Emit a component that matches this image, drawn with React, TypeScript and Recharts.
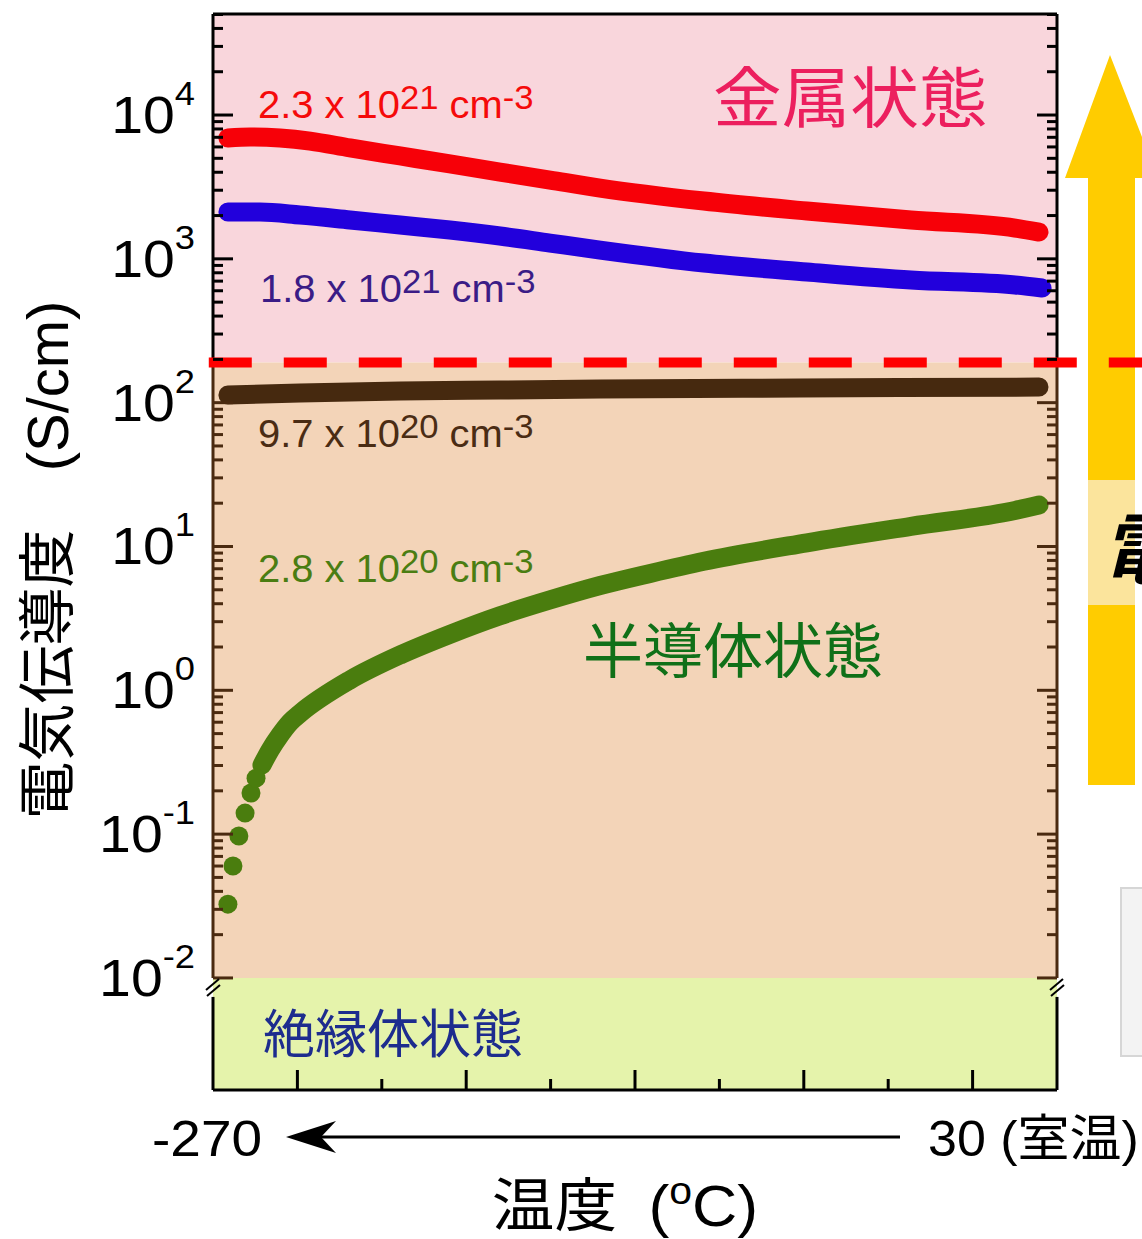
import React from "react";
import { ComposedChart, Line, XAxis, YAxis, ReferenceArea, ReferenceLine } from "recharts";

// temperature in °C, conductivity in S/cm
const redT = [-264.7, -256.8, -246.2, -235.5, -221.3, -203.5, -185.8, -168.0, -150.2, -132.4, -95.5, -58.9, -21.9, 15.1, 23.6];
const redS = [6920, 7040, 6920, 6590, 5900, 5190, 4570, 4015, 3530, 3105, 2523, 2149, 1862, 1638, 1535];

const blueT = [-264.7, -253.3, -239.1, -221.3, -203.5, -185.8, -168.0, -150.2, -132.4, -95.5, -58.9, -21.9, 15.1, 24.7];
const blueS = [2115, 2115, 2017, 1864, 1718, 1586, 1442, 1288, 1151, 935, 810, 712, 658, 627];

const brownT = [-264.7, -239.1, -203.5, -168.0, -132.4, -61.4, 23.6];
const brownS = [113, 116.7, 120.5, 122.5, 124.5, 126.5, 128.4];

// low temperature points of the 2.8e20 sample are separate dots
const greenDotT = [-264.7, -262.9, -260.8, -258.6, -256.5, -254.7];
const greenDotS = [0.0326, 0.06, 0.097, 0.14, 0.193, 0.245];
const greenT = [-252.6, -249.7, -246.2, -242.6, -239.1, -221.3, -203.5, -185.8, -168.0, -150.2, -132.4, -114.6, -95.5, -58.9, -21.9, 15.1, 23.6];
const greenS = [0.302, 0.384, 0.488, 0.6, 0.69, 1.18, 1.76, 2.45, 3.3, 4.25, 5.35, 6.5, 7.9, 10.6, 13.8, 17.8, 19.4];

const xTicks = [-240, -210, -180, -150, -120, -90, -60, -30, 0];
const decades = [0.01, 0.1, 1, 10, 100, 1000, 10000];
const minorMult = [2, 3, 4, 5, 6, 7, 8, 9];

const Y_MIN = 0.001663;
const Y_MAX = 50400;
const METAL_LINE = 190; // metal / semiconductor border
const BREAK_END = 0.00738;

const yTicks = decades.flatMap((d) => [d, ...minorMult.map((m) => m * d)]).filter((v) => v <= 50000);

const toRows = (t: number[], s: number[]) => t.map((v, i) => ({ t: v, s: s[i] }));

const BROWN = "#4a2a10";
const FONT = "'Liberation Sans', Arial, 'Noto Sans CJK JP', sans-serif";
const JP = "'Noto Sans CJK JP', 'Liberation Sans', sans-serif";

const isMajor = (v: number) => {
  const l = Math.log10(v);
  return Math.abs(l - Math.round(l)) < 1e-9;
};
const tickColor = (v: number) => (v > METAL_LINE ? "#000" : BROWN);

function LeftTick(props: any) {
  const { x, y, payload } = props;
  const v = payload.value;
  const major = isMajor(v);
  const e = Math.round(Math.log10(v));
  return (
    <g>
      <line x1={x} x2={x + (major ? 20 : 10)} y1={y} y2={y} stroke={tickColor(v)} strokeWidth={3} />
      {major && (
        <text transform={`translate(${x - 18},${y + 18}) scale(1.1,1)`} textAnchor="end" fontSize={52} fontFamily={FONT} fill="#000">
          10
          <tspan fontSize={33} dy={-28}>
            {e}
          </tspan>
        </text>
      )}
    </g>
  );
}

function RightTick(props: any) {
  const { x, y, payload } = props;
  const v = payload.value;
  const major = isMajor(v);
  return <line x1={x} x2={x - (major ? 20 : 10)} y1={y} y2={y} stroke={tickColor(v)} strokeWidth={3} />;
}

function BottomTick(props: any) {
  const { x, y, payload } = props;
  const major = payload.value % 60 === 0;
  return <line x1={x} x2={x} y1={y} y2={y - (major ? 20 : 11)} stroke="#000" strokeWidth={3} />;
}

function TopTick(props: any) {
  const { x, y, payload } = props;
  const major = payload.value % 60 === 0;
  return <line x1={x} x2={x} y1={y} y2={y + (major ? 20 : 11)} stroke="#000" strokeWidth={3} />;
}

function Conc(props: { x: number; y: number; mant: string; exp: string; color: string }) {
  const { x, y, mant, exp, color } = props;
  return (
    <text transform={`translate(${x},${y}) scale(1.05,1)`} fontSize={38} fontFamily={FONT} fill={color}>
      {mant} x 10
      <tspan fontSize={33} dy={-9}>
        {exp}
      </tspan>
      <tspan dy={9}> cm</tspan>
      <tspan fontSize={33} dy={-9}>
        -3
      </tspan>
    </text>
  );
}

export default function App() {
  const frame = (x1: number, y1: number, x2: number, y2: number, color: string, key: string) => (
    <ReferenceLine
      key={key}
      xAxisId="b"
      yAxisId="l"
      segment={[
        { x: x1, y: y1 },
        { x: x2, y: y2 },
      ]}
      stroke={color}
      strokeWidth={3}
      ifOverflow="visible"
    />
  );

  return (
    <div style={{ position: "absolute", left: 0, top: 0, width: 1142, height: 1239, overflow: "hidden" }}>
      <svg style={{ position: "absolute", left: 0, top: 0 }} width={1142} height={1239}>
        <path d="M1110,55 L1158,178 L1135,178 L1135,785 L1088,785 L1088,178 L1065,178 Z" fill="#ffcc00" />
        <rect x={1088} y={480} width={47} height={125} fill="#fbe49c" />
        <text x={1101} y={578} fontSize={78} fontWeight="bold" fontStyle="italic" fontFamily={JP} fill="#000">
          電
        </text>
        <rect x={1121} y={888} width={40} height={168} fill="#f3f3f3" stroke="#d6d6d6" strokeWidth={2} />
      </svg>

      <div style={{ position: "absolute", left: 0, top: 0 }}>
        <ComposedChart width={1142} height={1239} margin={{ top: 0, right: 45, bottom: 119, left: 153 }}>
          <XAxis
            xAxisId="b"
            dataKey="t"
            type="number"
            domain={[-270, 30]}
            allowDataOverflow
            ticks={xTicks}
            interval={0}
            height={30}
            axisLine={false}
            tickLine={false}
            tickSize={0}
            tickMargin={0}
            tick={<BottomTick />}
          />
          <XAxis
            xAxisId="t"
            orientation="top"
            type="number"
            domain={[-270, 30]}
            allowDataOverflow
            ticks={xTicks}
            interval={0}
            height={14}
            axisLine={false}
            tickLine={false}
            tickSize={0}
            tickMargin={0}
            tick={<TopTick />}
          />
          <YAxis
            yAxisId="l"
            dataKey="s"
            type="number"
            scale="log"
            domain={[Y_MIN, Y_MAX]}
            allowDataOverflow
            ticks={yTicks}
            interval={0}
            width={60}
            axisLine={false}
            tickLine={false}
            tickSize={0}
            tickMargin={0}
            tick={<LeftTick />}
          />
          <YAxis
            yAxisId="r"
            orientation="right"
            type="number"
            scale="log"
            domain={[Y_MIN, Y_MAX]}
            allowDataOverflow
            ticks={yTicks}
            interval={0}
            width={40}
            axisLine={false}
            tickLine={false}
            tickSize={0}
            tickMargin={0}
            tick={<RightTick />}
          />

          <ReferenceArea xAxisId="b" yAxisId="l" x1={-270} x2={30} y1={METAL_LINE} y2={Y_MAX} fill="#f9d6dc" fillOpacity={1} stroke="none" />
          <ReferenceArea xAxisId="b" yAxisId="l" x1={-270} x2={30} y1={0.01} y2={METAL_LINE} fill="#f3d4b8" fillOpacity={1} stroke="none" />
          <ReferenceArea xAxisId="b" yAxisId="l" x1={-270} x2={30} y1={Y_MIN} y2={0.01} fill="#e5f3ab" fillOpacity={1} stroke="none" />

          {frame(-270, Y_MAX, 30, Y_MAX, "#000", "top")}
          {frame(-270, Y_MIN, 30, Y_MIN, "#000", "bottom")}
          {frame(-270, Y_MAX, -270, METAL_LINE, "#000", "l1")}
          {frame(-270, METAL_LINE, -270, 0.01, BROWN, "l2")}
          {frame(-270, BREAK_END, -270, Y_MIN, "#000", "l3")}
          {frame(30, Y_MAX, 30, METAL_LINE, "#000", "r1")}
          {frame(30, METAL_LINE, 30, 0.01, BROWN, "r2")}
          {frame(30, BREAK_END, 30, Y_MIN, "#000", "r3")}

          <Line xAxisId="b" yAxisId="l" data={toRows(redT, redS)} dataKey="s" type="monotone" stroke="#f70008" strokeWidth={19} strokeLinecap="round" strokeLinejoin="round" dot={false} isAnimationActive={false} />
          <Line xAxisId="b" yAxisId="l" data={toRows(blueT, blueS)} dataKey="s" type="monotone" stroke="#2200dc" strokeWidth={19} strokeLinecap="round" strokeLinejoin="round" dot={false} isAnimationActive={false} />
          <Line xAxisId="b" yAxisId="l" data={toRows(brownT, brownS)} dataKey="s" type="monotone" stroke="#46290f" strokeWidth={19} strokeLinecap="round" strokeLinejoin="round" dot={false} isAnimationActive={false} />
          <Line xAxisId="b" yAxisId="l" data={toRows(greenT, greenS)} dataKey="s" type="monotone" stroke="#4a7d0e" strokeWidth={19} strokeLinecap="round" strokeLinejoin="round" dot={false} isAnimationActive={false} />
          <Line xAxisId="b" yAxisId="l" data={toRows(greenDotT, greenDotS)} dataKey="s" stroke="none" dot={{ r: 9.5, fill: "#4a7d0e", stroke: "none" }} isAnimationActive={false} />

          <ReferenceLine
            xAxisId="b"
            yAxisId="l"
            segment={[
              { x: -271.5, y: METAL_LINE },
              { x: 62, y: METAL_LINE },
            ]}
            stroke="#ff0000"
            strokeWidth={10}
            strokeDasharray="43 32"
            ifOverflow="visible"
          />
        </ComposedChart>
      </div>

      <svg style={{ position: "absolute", left: 0, top: 0, pointerEvents: "none" }} width={1142} height={1239}>
        <Conc x={258} y={118} mant="2.3" exp="21" color="#f50a0a" />
        <Conc x={260} y={302} mant="1.8" exp="21" color="#3b1c86" />
        <Conc x={258} y={447} mant="9.7" exp="20" color="#4a2c14" />
        <Conc x={258} y={582} mant="2.8" exp="20" color="#4a7d12" />

        <text transform="translate(713,122) scale(1.04,1)" fontSize={66} fontFamily={JP} fill="#ec1f5e">
          金属状態
        </text>
        <text x={583} y={673} fontSize={60} fontFamily={JP} fill="#107018">
          半導体状態
        </text>
        <text x={263} y={1053} fontSize={52} fontFamily={JP} fill="#1d2c8e">
          絶縁体状態
        </text>

        <text transform="translate(68,560) rotate(-90)" textAnchor="middle" fontSize={58} fontFamily={FONT} fill="#000">
          電気伝導度{"\u3000"}(S/cm)
        </text>

        <g stroke="#000" strokeWidth={2}>
          <line x1={206} y1={990} x2={219} y2={979} />
          <line x1={207} y1={996} x2={220} y2={985} />
          <line x1={1050} y1={990} x2={1063} y2={979} />
          <line x1={1051} y1={996} x2={1064} y2={985} />
        </g>

        <line x1={310} y1={1137} x2={900} y2={1137} stroke="#000" strokeWidth={3} />
        <path d="M286,1137 L336,1121 L321,1137 L336,1153 Z" fill="#000" />
        <text transform="translate(152,1156) scale(1.1,1)" fontSize={50} fontFamily={FONT} fill="#000">
          -270
        </text>
        <text transform="translate(928,1156) scale(1.04,1)" fontSize={50} fontFamily={FONT} fill="#000">
          30 (室温)
        </text>
        <text transform="translate(625,1226) scale(1.08,1)" textAnchor="middle" fontSize={58} fontFamily={FONT} fill="#000">
          温度{"\u2002"}(
          <tspan fontSize={38} dy={-22}>
            o
          </tspan>
          <tspan dy={22}>C)</tspan>
        </text>
      </svg>
    </div>
  );
}
